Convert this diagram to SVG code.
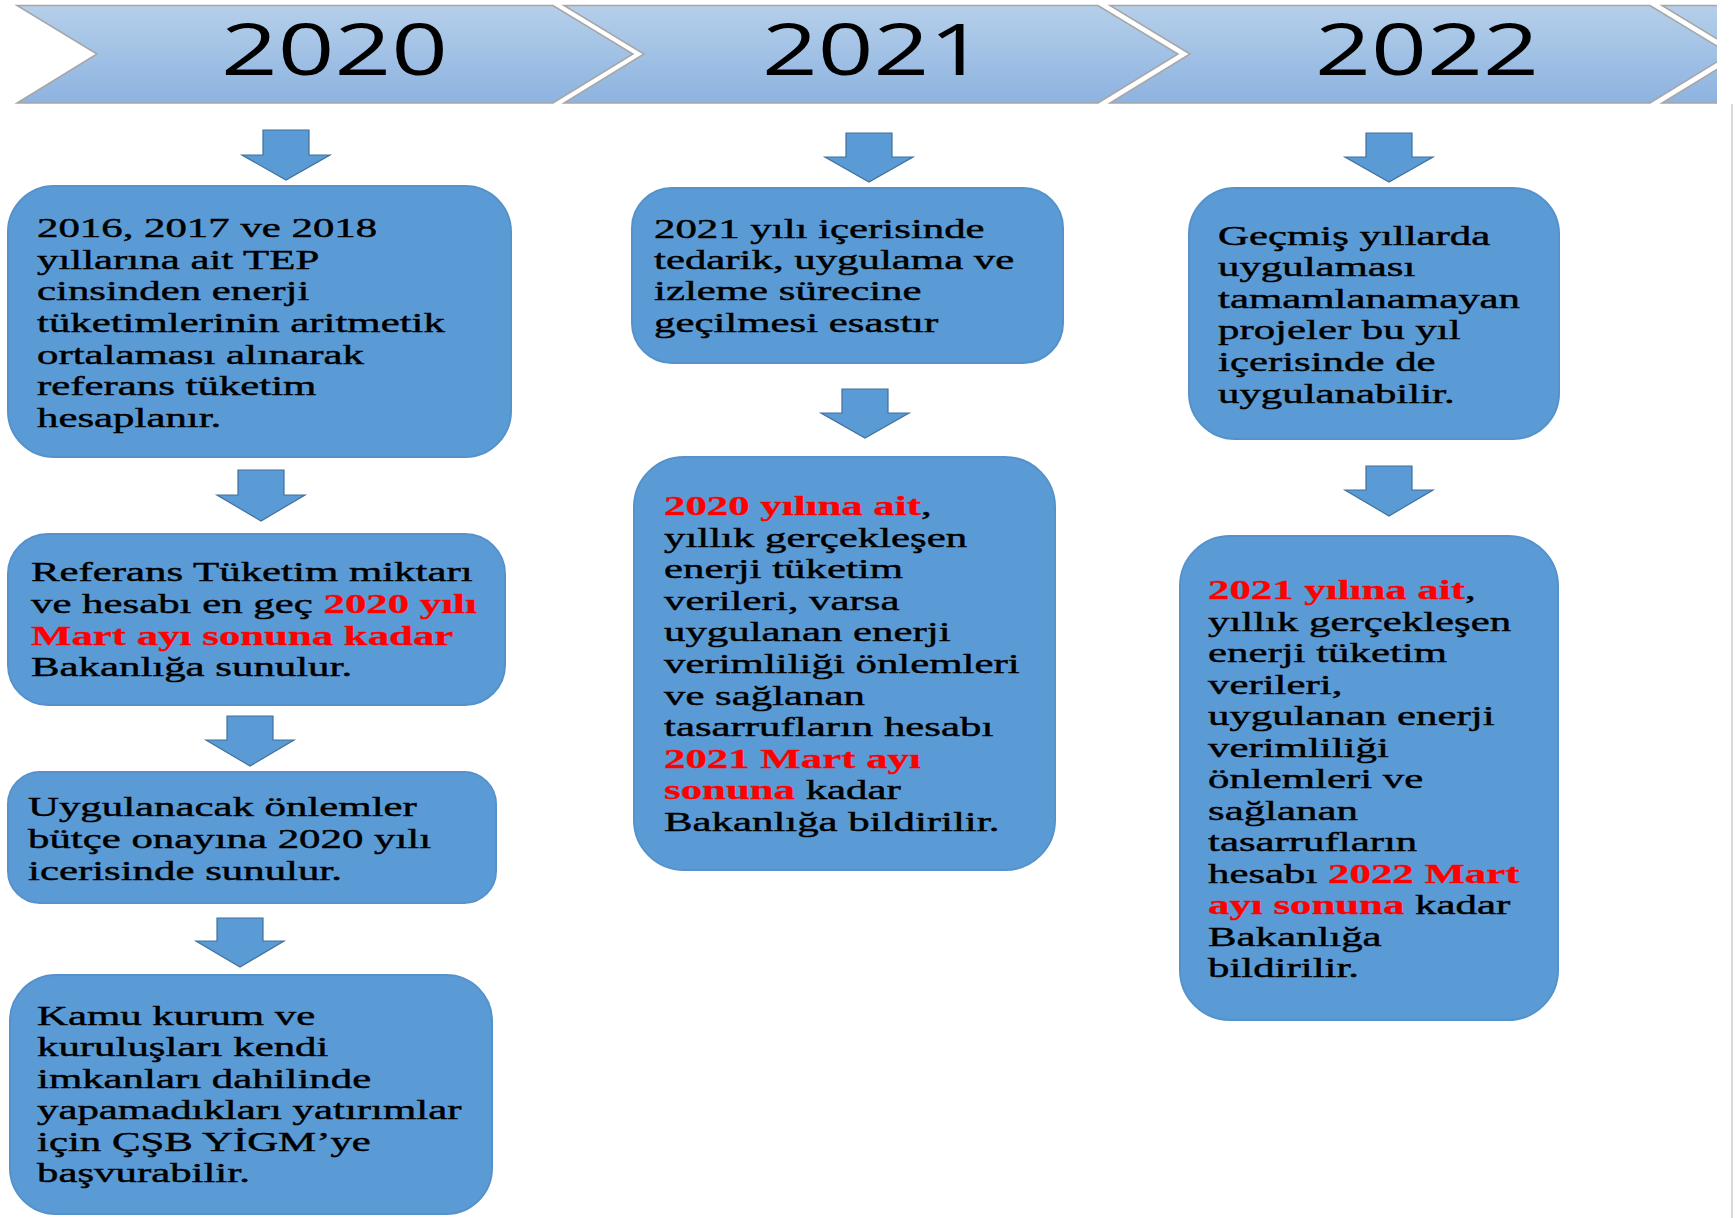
<svg xmlns="http://www.w3.org/2000/svg" width="1736" height="1218" viewBox="0 0 1736 1218">
<defs>
<linearGradient id="chev" x1="0" y1="0" x2="0" y2="1">
<stop offset="0" stop-color="#b5cfea"/>
<stop offset="1" stop-color="#8db3e0"/>
</linearGradient>
<clipPath id="bandclip"><rect x="0" y="0" width="1717" height="110"/></clipPath>
</defs>
<style>
.chev{fill:url(#chev);stroke:#a6a6a6;stroke-width:1.5}
.yr{font-family:"Open Sans","Noto Sans","Liberation Sans",sans-serif;font-size:71px;fill:#000}
.box{fill:#5b9bd5;stroke:#5592cc;stroke-width:2}
.arr{fill:#5b9bd5;stroke:#41719c;stroke-width:1.2}
.t{font-family:"Liberation Serif","Times New Roman",serif;font-size:28px;fill:#000;stroke:#000;stroke-width:0.45}
.r{fill:#ff0000;stroke:#ff0000;stroke-width:0.3;font-weight:bold}
</style>
<rect width="1736" height="1218" fill="#ffffff"/>
<g id="timeline" clip-path="url(#bandclip)">
<g id="y2020"><polygon class="chev" points="17,5.5 553,5.5 633,54 553,103 17,103 97,54"/><text class="yr" x="221" y="75" textLength="227" lengthAdjust="spacingAndGlyphs">2020</text></g>
<g id="y2021"><polygon class="chev" points="564,5.5 1098,5.5 1178,54 1098,103 564,103 644,54"/><text class="yr" x="762" y="75" textLength="223" lengthAdjust="spacingAndGlyphs">2021</text></g>
<g id="y2022"><polygon class="chev" points="1110,5.5 1650,5.5 1730,54 1650,103 1110,103 1190,54"/><text class="yr" x="1315" y="75" textLength="224" lengthAdjust="spacingAndGlyphs">2022</text></g>
<g id="y2023"><polygon class="chev" points="1662,5.5 2000,5.5 2000,103 1662,103 1742,54"/></g>
</g>
<line x1="1732" y1="104" x2="1732" y2="1218" stroke="#d9d9d9" stroke-width="2"/>
<g id="connectors">
<path class="arr" d="M263,130 H309 V155 H330 L286,180 L242,155 H263 Z"/>
<path class="arr" d="M238,470 H284 V495 H305 L261,521 L217,495 H238 Z"/>
<path class="arr" d="M227,716 H273 V740 H294 L250,766 L206,740 H227 Z"/>
<path class="arr" d="M217,918 H263 V941 H284 L240,967 L196,941 H217 Z"/>
<path class="arr" d="M846,133 H892 V157 H913 L869,182 L825,157 H846 Z"/>
<path class="arr" d="M842,389 H888 V413 H909 L865,438 L821,413 H842 Z"/>
<path class="arr" d="M1366,133 H1412 V157 H1433 L1389,182 L1345,157 H1366 Z"/>
<path class="arr" d="M1366,466 H1412 V490 H1433 L1389,516 L1345,490 H1366 Z"/>
</g>
<g id="n1">
<rect class="box" x="8" y="186" width="503" height="271" rx="46"/>
<text class="t" transform="translate(37 0) scale(1.53 1)">
<tspan x="0" y="237">2016, 2017 ve 2018</tspan>
<tspan x="0" y="269">yıllarına ait TEP</tspan>
<tspan x="0" y="300">cinsinden enerji</tspan>
<tspan x="0" y="332">tüketimlerinin aritmetik</tspan>
<tspan x="0" y="364">ortalaması alınarak</tspan>
<tspan x="0" y="395">referans tüketim</tspan>
<tspan x="0" y="427">hesaplanır.</tspan>
</text>
</g>
<g id="n2">
<rect class="box" x="8" y="534" width="497" height="171" rx="40"/>
<text class="t" transform="translate(31 0) scale(1.53 1)">
<tspan x="0" y="581">Referans Tüketim miktarı</tspan>
<tspan x="0" y="613">ve hesabı en geç <tspan class="r">2020 yılı</tspan></tspan>
<tspan x="0" y="645" class="r">Mart ayı sonuna kadar</tspan>
<tspan x="0" y="676">Bakanlığa sunulur.</tspan>
</text>
</g>
<g id="n3">
<rect class="box" x="8" y="772" width="488" height="131" rx="32"/>
<text class="t" transform="translate(28 0) scale(1.53 1)">
<tspan x="0" y="816">Uygulanacak önlemler</tspan>
<tspan x="0" y="848">bütçe onayına 2020 yılı</tspan>
<tspan x="0" y="880">icerisinde sunulur.</tspan>
</text>
</g>
<g id="n4">
<rect class="box" x="10" y="975" width="482" height="239" rx="46"/>
<text class="t" transform="translate(37 0) scale(1.53 1)">
<tspan x="0" y="1025">Kamu kurum ve</tspan>
<tspan x="0" y="1056">kuruluşları kendi</tspan>
<tspan x="0" y="1088">imkanları dahilinde</tspan>
<tspan x="0" y="1119">yapamadıkları yatırımlar</tspan>
<tspan x="0" y="1151">için ÇŞB YİGM’ye</tspan>
<tspan x="0" y="1182">başvurabilir.</tspan>
</text>
</g>
<g id="n5">
<rect class="box" x="632" y="188" width="431" height="175" rx="40"/>
<text class="t" transform="translate(654 0) scale(1.53 1)">
<tspan x="0" y="238">2021 yılı içerisinde</tspan>
<tspan x="0" y="269">tedarik, uygulama ve</tspan>
<tspan x="0" y="300">izleme sürecine</tspan>
<tspan x="0" y="332">geçilmesi esastır</tspan>
</text>
</g>
<g id="n6">
<rect class="box" x="634" y="457" width="421" height="413" rx="50"/>
<text class="t" transform="translate(664 0) scale(1.53 1)">
<tspan x="0" y="515"><tspan class="r">2020 yılına ait</tspan>,</tspan>
<tspan x="0" y="547">yıllık gerçekleşen</tspan>
<tspan x="0" y="578">enerji tüketim</tspan>
<tspan x="0" y="610">verileri, varsa</tspan>
<tspan x="0" y="641">uygulanan enerji</tspan>
<tspan x="0" y="673">verimliliği önlemleri</tspan>
<tspan x="0" y="705">ve sağlanan</tspan>
<tspan x="0" y="736">tasarrufların hesabı</tspan>
<tspan x="0" y="768" class="r">2021 Mart ayı</tspan>
<tspan x="0" y="799"><tspan class="r">sonuna</tspan> kadar</tspan>
<tspan x="0" y="831">Bakanlığa bildirilir.</tspan>
</text>
</g>
<g id="n7">
<rect class="box" x="1189" y="188" width="370" height="251" rx="46"/>
<text class="t" transform="translate(1218 0) scale(1.53 1)">
<tspan x="0" y="245">Geçmiş yıllarda</tspan>
<tspan x="0" y="276">uygulaması</tspan>
<tspan x="0" y="308">tamamlanamayan</tspan>
<tspan x="0" y="339">projeler bu yıl</tspan>
<tspan x="0" y="371">içerisinde de</tspan>
<tspan x="0" y="403">uygulanabilir.</tspan>
</text>
</g>
<g id="n8">
<rect class="box" x="1180" y="536" width="378" height="484" rx="50"/>
<text class="t" transform="translate(1208 0) scale(1.53 1)">
<tspan x="0" y="599"><tspan class="r">2021 yılına ait</tspan>,</tspan>
<tspan x="0" y="631">yıllık gerçekleşen</tspan>
<tspan x="0" y="662">enerji tüketim</tspan>
<tspan x="0" y="694">verileri,</tspan>
<tspan x="0" y="725">uygulanan enerji</tspan>
<tspan x="0" y="757">verimliliği</tspan>
<tspan x="0" y="788">önlemleri ve</tspan>
<tspan x="0" y="820">sağlanan</tspan>
<tspan x="0" y="851">tasarrufların</tspan>
<tspan x="0" y="883">hesabı <tspan class="r">2022 Mart</tspan></tspan>
<tspan x="0" y="914"><tspan class="r">ayı sonuna</tspan> kadar</tspan>
<tspan x="0" y="946">Bakanlığa</tspan>
<tspan x="0" y="977">bildirilir.</tspan>
</text>
</g>
</svg>
